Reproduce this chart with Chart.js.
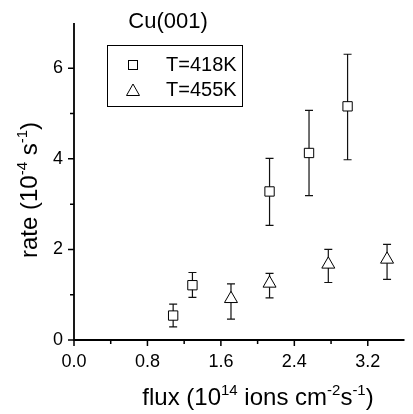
<!DOCTYPE html>
<html>
<head>
<meta charset="utf-8">
<script src="https://cdn.jsdelivr.net/npm/chart.js@4.4.1/dist/chart.umd.min.js"></script>
<style>
html, body { margin: 0; padding: 0; background: #fff; }
#wrap { width: 413px; height: 414px; }
</style>
</head>
<body>
<div id="wrap"><canvas id="chart" width="413" height="414"></canvas></div>
<script>
// T = 418K (squares)
var flux418 = [1.08, 1.29, 2.13, 2.56, 2.98];
var rate418 = [0.54, 1.21, 3.28, 4.13, 5.16];
var low418  = [0.29, 0.94, 2.53, 3.19, 3.98];
var high418 = [0.79, 1.49, 4.01, 5.07, 6.31];

// T = 455K (triangles)
var flux455 = [1.71, 2.13, 2.77, 3.41];
var rate455 = [0.91, 1.25, 1.67, 1.78];
var low455  = [0.46, 0.93, 1.27, 1.34];
var high455 = [1.24, 1.47, 2.00, 2.11];

var seriesLabels = ["T=418K", "T=455K"];
var xTicks = [0.0, 0.8, 1.6, 2.4, 3.2];
var xMinor = [0.4, 1.2, 2.0, 2.8];
var yTicks = [0, 2, 4, 6];
var yMinor = [1, 3, 5];

var FONT = '"Liberation Sans", Arial, sans-serif';

function toPoints(xs, ys) {
    return xs.map(function (x, i) { return { x: x, y: ys[i] }; });
}

// text with superscripts, centered on x
function drawRich(ctx, parts, size, x, y, rot) {
    ctx.save();
    ctx.translate(x, y);
    ctx.rotate(rot);
    ctx.fillStyle = '#000';
    ctx.textBaseline = 'alphabetic';
    ctx.textAlign = 'left';
    var base = size + 'px ' + FONT;
    var small = Math.round(size * 0.62) + 'px ' + FONT;
    var total = 0;
    parts.forEach(function (p) {
        ctx.font = p.sup ? small : base;
        p.w = ctx.measureText(p.t).width;
        total += p.w;
    });
    var cx = -total / 2;
    parts.forEach(function (p) {
        ctx.font = p.sup ? small : base;
        ctx.fillText(p.t, cx, p.sup ? -size * 0.42 : 0);
        cx += p.w;
    });
    ctx.restore();
}

var errorBars = {
    id: 'errorBars',
    beforeDatasetsDraw: function (chart) {
        var ctx = chart.ctx, xs = chart.scales.x, ys = chart.scales.y;
        var sets = [[flux418, low418, high418], [flux455, low455, high455]];
        ctx.save();
        ctx.strokeStyle = '#111';
        ctx.lineWidth = 1.2;
        sets.forEach(function (s) {
            for (var i = 0; i < s[0].length; i++) {
                var px = xs.getPixelForValue(s[0][i]);
                var pl = ys.getPixelForValue(s[1][i]);
                var ph = ys.getPixelForValue(s[2][i]);
                ctx.beginPath();
                ctx.moveTo(px, pl); ctx.lineTo(px, ph);
                ctx.moveTo(px - 4, pl); ctx.lineTo(px + 4, pl);
                ctx.moveTo(px - 4, ph); ctx.lineTo(px + 4, ph);
                ctx.stroke();
            }
        });
        ctx.restore();
    }
};

var decorations = {
    id: 'decorations',
    afterDraw: function (chart) {
        var ctx = chart.ctx, xs = chart.scales.x, ys = chart.scales.y;
        var area = chart.chartArea;
        ctx.save();
        ctx.strokeStyle = '#000';
        ctx.lineWidth = 1.8;
        // axis lines
        ctx.beginPath();
        ctx.moveTo(area.left, area.top);
        ctx.lineTo(area.left, area.bottom);
        ctx.lineTo(area.right, area.bottom);
        ctx.stroke();
        // ticks
        ctx.lineWidth = 1.5;
        ctx.beginPath();
        xTicks.forEach(function (v) { var p = xs.getPixelForValue(v); ctx.moveTo(p, area.bottom); ctx.lineTo(p, area.bottom + 6); });
        xMinor.forEach(function (v) { var p = xs.getPixelForValue(v); ctx.moveTo(p, area.bottom); ctx.lineTo(p, area.bottom + 4); });
        yTicks.forEach(function (v) { var p = ys.getPixelForValue(v); ctx.moveTo(area.left, p); ctx.lineTo(area.left - 6, p); });
        yMinor.forEach(function (v) { var p = ys.getPixelForValue(v); ctx.moveTo(area.left, p); ctx.lineTo(area.left - 4, p); });
        ctx.stroke();

        // title
        ctx.fillStyle = '#000';
        ctx.font = '22px ' + FONT;
        ctx.textAlign = 'center';
        ctx.textBaseline = 'alphabetic';
        ctx.fillText('Cu(001)', 168, 28);

        // legend
        ctx.lineWidth = 1;
        ctx.strokeRect(107.5, 45.5, 135, 61);
        ctx.font = '20px ' + FONT;
        ctx.textAlign = 'left';
        ctx.textBaseline = 'middle';
        ctx.fillText(seriesLabels[0], 166, 65);
        ctx.fillText(seriesLabels[1], 166, 90);
        ctx.strokeRect(128.5, 60.5, 9, 9);
        ctx.beginPath();
        ctx.moveTo(133, 84); ctx.lineTo(139.5, 95.5); ctx.lineTo(126.5, 95.5); ctx.closePath();
        ctx.stroke();

        // axis titles
        drawRich(ctx, [{ t: 'flux (10' }, { t: '14', sup: true }, { t: ' ions cm' }, { t: '-2', sup: true },
            { t: 's' }, { t: '-1', sup: true }, { t: ')' }], 24, 258, 405, 0);
        drawRich(ctx, [{ t: 'rate (10' }, { t: '-4', sup: true }, { t: ' s' }, { t: '-1', sup: true },
            { t: ')' }], 24, 37, 190, -Math.PI / 2);
        ctx.restore();
    }
};

var ctx = document.getElementById('chart').getContext('2d');
var chart = new Chart(ctx, {
    type: 'scatter',
    data: {
        datasets: [{
            label: seriesLabels[0],
            data: toPoints(flux418, rate418),
            pointStyle: 'rect',
            pointRadius: 6.6,
            pointHoverRadius: 6.6,
            borderColor: '#000',
            backgroundColor: '#fff',
            borderWidth: 1
        }, {
            label: seriesLabels[1],
            data: toPoints(flux455, rate455),
            pointStyle: 'triangle',
            pointRadius: 7.5,
            pointHoverRadius: 7.5,
            borderColor: '#000',
            backgroundColor: '#fff',
            borderWidth: 1
        }]
    },
    options: {
        responsive: false,
        animation: false,
        devicePixelRatio: 1,
        layout: { padding: { top: 23, right: 0, left: 0, bottom: 0 } },
        plugins: {
            legend: { display: false },
            tooltip: { enabled: false },
            title: { display: false }
        },
        scales: {
            x: {
                type: 'linear',
                min: 0,
                max: 3.6,
                afterBuildTicks: function (scale) {
                    scale.ticks = xTicks.map(function (v) { return { value: v }; });
                },
                afterFit: function (scale) { scale.height = 74; },
                grid: { display: false, drawTicks: false },
                border: { display: false },
                ticks: {
                    padding: 11,
                    color: '#000',
                    font: { family: FONT, size: 18 },
                    callback: function (v) { return Number(v).toFixed(1); }
                }
            },
            y: {
                type: 'linear',
                min: 0,
                max: 7,
                afterBuildTicks: function (scale) {
                    scale.ticks = yTicks.map(function (v) { return { value: v }; });
                },
                afterFit: function (scale) { scale.width = 74; },
                grid: { display: false, drawTicks: false },
                border: { display: false },
                ticks: {
                    padding: 11,
                    color: '#000',
                    font: { family: FONT, size: 18 },
                    callback: function (v) { return String(v); }
                }
            }
        }
    },
    plugins: [errorBars, decorations]
});
</script>
</body>
</html>
